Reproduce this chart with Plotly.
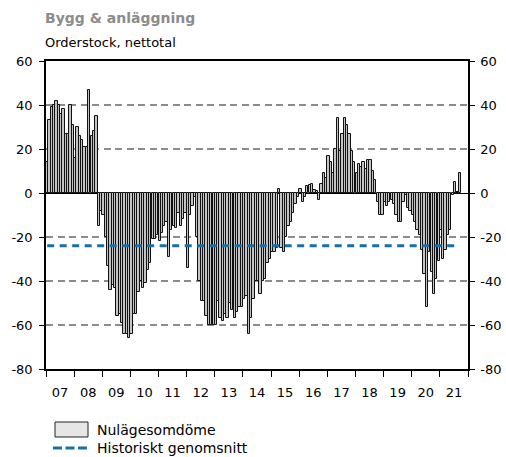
import plotly.graph_objects as go
import pandas as pd

# ---- data ----
start_month = "2007-01-01"
# Nulägesomdöme (orderstock, nettotal), monthly from Jan 2007
order_values = [
    # 2007-01 .. 2008-10
    14, 33, 39, 40, 42, 40, 36, 38, 27, 27, 40, 31,
    16, 30, 26, 24, 21, 21, 47, 26, 28, 35,
    # 2008-11 .. 2012-11
    -15, -8, -10, -20, -33, -44, -42, -43, -56, -55, -59, -64, -64, -66,
    -64, -55, -55, -45, -40, -43, -41, -35, -32, -21, -21, -19, -22, -18,
    -15, -13, -29, -17, -15, -16, -9, -15, -12, -9, -34, -10, -6, -2,
    -20, -40, -49, -49, -56, -60, -60,
    # 2012-12 .. 2015-11
    -60, -60, -49, -57, -58, -55, -57, -50, -53, -57, -54, -52, -52, -48,
    -47, -64, -57, -48, -40, -40, -46, -40, -39, -32, -30, -27, -27, -25,
    2, -25, -27, -20, -15, -13, -9, -5,
    # 2015-12 .. 2018-11
    -2, 2, -4, -2, 3, 3.5, 4, 1.5, 1, -3, 4, 9, 7, 17, 14, 9, 20, 34,
    19, 27, 34, 31, 27, 19, 14, 9, 13, 12, 14, 11, 15, 15, 10, 6, -4, -10,
    # 2018-12 .. 2021-09
    -10, -4, -6, -4, -3, -5, -10, -13, -13, -4, -1, -7, -8, -10, -13, -17,
    -19, -26, -37, -52, -27, -36, -46, -39, -31, -17, -30, -26, -19, -17,
    -1, 5, 0.5, 9,
]
average_value = -24  # Historiskt genomsnitt
y_ticks = [60, 40, 20, 0, -20, -40, -60, -80]
y_tick_labels = ["60", "40", "20", "0", "-20", "-40", "-60", "-80"]
y_range = [-80, 60]
x_range = ["2007-01-01", "2022-01-01"]

title_text = "Bygg & anläggning"
subtitle_text = "Orderstock, nettotal"
bar_name = "Nulägesomdöme"
line_name = "Historiskt genomsnitt"

months = pd.date_range(start_month, periods=len(order_values), freq="MS")

# ---- styles ----
BAR_FILL = "#c4c4c4"
BAR_EDGE = "#111111"
AVG_COLOR = "#1670a6"
GRID_COLOR = "#8c8c8c"
TICK_FONT = dict(family="DejaVu Sans", size=13, color="#000000")

W, H = 506, 457
L, T = 46, 61
R = W - 468
B = H - 369
PW, PH = W - L - R, H - T - B


def px(xp):
    """figure pixel x -> paper coordinate"""
    return (xp - L) / PW


def py(yp):
    """figure pixel y -> paper coordinate"""
    return (H - B - yp) / PH


fig = go.Figure()
fig.add_trace(go.Bar(
    x=months, y=order_values, name=bar_name,
    xperiod="M1", xperiodalignment="middle",
    marker=dict(color=BAR_FILL, line=dict(color=BAR_EDGE, width=1)),
    showlegend=False,
))
fig.add_trace(go.Scatter(
    x=months, y=[average_value] * len(months), name=line_name,
    xperiod="M1", xperiodalignment="middle",
    mode="lines", yaxis="y2",
    line=dict(color=AVG_COLOR, width=3, dash="7px,5.5px"),
    showlegend=False,
))

yaxis_common = dict(
    range=y_range, tickmode="array", tickvals=y_ticks, ticktext=y_tick_labels,
    automargin=False,
    ticks="outside", ticklen=5, tickwidth=1, tickcolor="#000",
    showline=True, linecolor="#000", linewidth=1.5,
    tickfont=TICK_FONT,
)

fig.update_layout(
    width=W, height=H,
    margin=dict(l=L, r=R, t=T, b=B, pad=0, autoexpand=False),
    paper_bgcolor="white", plot_bgcolor="white",
    bargap=0,
    showlegend=False,
    xaxis=dict(
        type="date", range=x_range, automargin=False,
        tick0="2007-01-01", dtick="M12", tickformat="%y",
        ticklabelmode="period",
        ticks="outside", ticklen=6, tickwidth=1, tickcolor="#000",
        ticklabelstandoff=5,
        showline=True, linecolor="#000", linewidth=1.5, mirror=True,
        showgrid=False, zeroline=False,
        tickfont=TICK_FONT,
    ),
    yaxis=dict(
        **yaxis_common,
        ticklabelstandoff=4,
        showgrid=True, gridcolor=GRID_COLOR, gridwidth=1.6, griddash="7px,4.5px",
        zeroline=True, zerolinecolor="#000", zerolinewidth=1,
    ),
    yaxis2=dict(
        **yaxis_common,
        overlaying="y", side="right",
        ticklabelstandoff=3,
        showgrid=False, zeroline=False,
    ),
    annotations=[
        dict(text=f"<b>{title_text}</b>", xref="paper", yref="paper",
             x=px(43), y=py(18), xanchor="left", yanchor="middle", showarrow=False,
             font=dict(family="DejaVu Sans", size=14, color="#8c8c8c")),
        dict(text=subtitle_text, xref="paper", yref="paper",
             x=px(43), y=py(43), xanchor="left", yanchor="middle", showarrow=False,
             font=dict(family="DejaVu Sans", size=13, color="#000000")),
        dict(text=bar_name, xref="paper", yref="paper",
             x=px(95), y=py(429.5), xanchor="left", yanchor="middle", showarrow=False,
             font=dict(family="DejaVu Sans", size=14, color="#000000")),
        dict(text=line_name, xref="paper", yref="paper",
             x=px(95), y=py(448), xanchor="left", yanchor="middle", showarrow=False,
             font=dict(family="DejaVu Sans", size=14, color="#000000")),
    ],
    shapes=[
        dict(type="rect", xref="paper", yref="paper",
             x0=px(55), x1=px(88), y0=py(437), y1=py(422),
             fillcolor="#e6e6e6", line=dict(color="#222", width=1)),
        dict(type="line", xref="paper", yref="paper",
             x0=px(53), x1=px(88), y0=py(448), y1=py(448),
             line=dict(color=AVG_COLOR, width=3, dash="9px,3.5px")),
    ],
)

# remove the default 8px page margin so the figure fills the window exactly
fig.write_html(
    "out.html",
    config={"displayModeBar": False, "staticPlot": False},
    post_script="document.body.style.margin='0';document.body.style.overflow='hidden';",
)
